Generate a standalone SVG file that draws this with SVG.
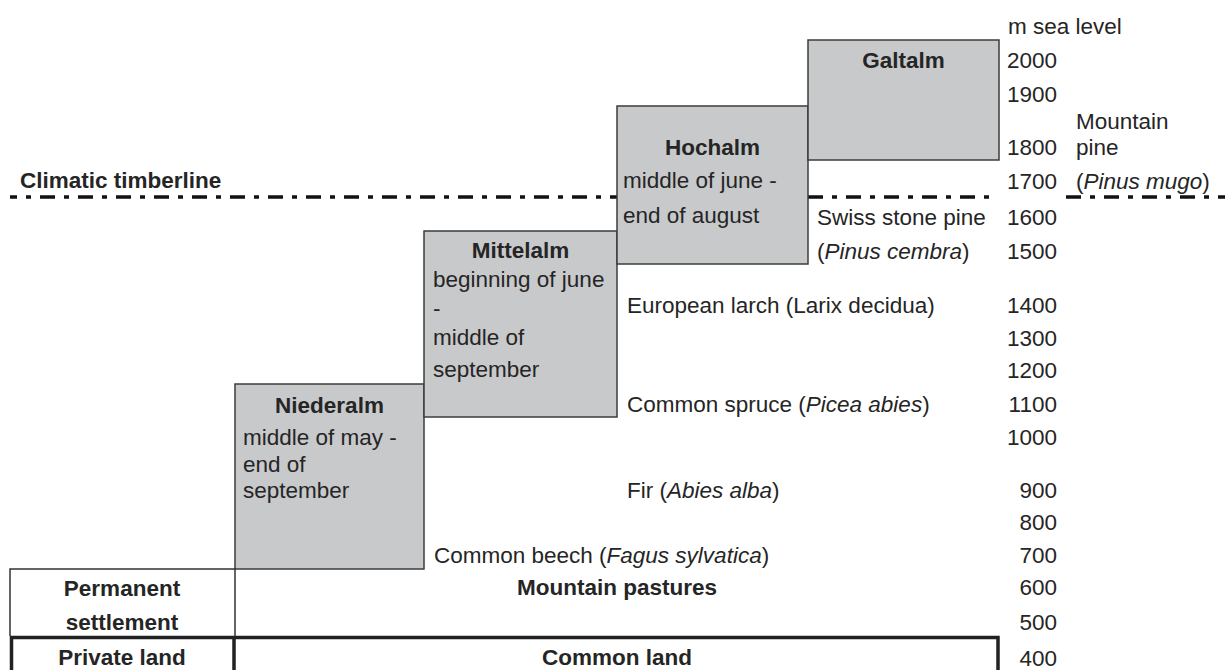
<svg xmlns="http://www.w3.org/2000/svg" width="1225" height="670" viewBox="0 0 1225 670">
<style>
text{font-family:"Liberation Sans",Arial,sans-serif;font-size:22.5px;fill:#252525}
.b{font-weight:bold}
.c{text-anchor:middle}
.e{text-anchor:end}
.box{fill:#c8c9cb;stroke:#3c3c3c;stroke-width:1.5}
.dash{stroke:#111;stroke-width:3.5;stroke-dasharray:15 9 5 9;fill:none}
.thin{stroke:#333;stroke-width:1.5;fill:none}
.thick{stroke:#222;stroke-width:3.5;fill:none}
</style>
<rect width="1225" height="670" fill="#fff"/>
<g id="connectors">
<line class="dash" x1="10" y1="197" x2="617" y2="197" stroke-dashoffset="8"/>
<line class="dash" x1="808" y1="197" x2="998" y2="197"/>
<line class="dash" x1="1066" y1="197" x2="1225" y2="197"/>
</g>
<g id="niederalm">
<rect class="box" x="235" y="384" width="189" height="185"/>
<text class="b c" x="329.5" y="413">Niederalm</text>
<text x="243" y="445">middle of may -</text>
<text x="243" y="472">end of</text>
<text x="243" y="498">september</text>
</g>
<g id="mittelalm">
<rect class="box" x="424" y="231" width="193" height="186"/>
<text class="b c" x="520.5" y="258">Mittelalm</text>
<text x="433" y="287">beginning of june</text>
<text x="433" y="316">-</text>
<text x="433" y="345">middle of</text>
<text x="433" y="377">september</text>
</g>
<g id="hochalm">
<rect class="box" x="617" y="106" width="191" height="158"/>
<text class="b c" x="712.5" y="155">Hochalm</text>
<text x="623" y="188">middle of june -</text>
<text x="623" y="223">end of august</text>
</g>
<g id="galtalm">
<rect class="box" x="808" y="40" width="191" height="120"/>
<text class="b c" x="903.5" y="68">Galtalm</text>
</g>
<g id="timberline">
<text class="b" x="20" y="188">Climatic timberline</text>
</g>
<g id="scale">
<text x="1008" y="34">m sea level</text>
<text class="e" x="1057" y="68">2000</text>
<text class="e" x="1057" y="102">1900</text>
<text class="e" x="1057" y="155">1800</text>
<text class="e" x="1057" y="189">1700</text>
<text class="e" x="1057" y="225">1600</text>
<text class="e" x="1057" y="259">1500</text>
<text class="e" x="1057" y="313">1400</text>
<text class="e" x="1057" y="346">1300</text>
<text class="e" x="1057" y="378">1200</text>
<text class="e" x="1057" y="412">1100</text>
<text class="e" x="1057" y="445">1000</text>
<text class="e" x="1057" y="498">900</text>
<text class="e" x="1057" y="530">800</text>
<text class="e" x="1057" y="563">700</text>
<text class="e" x="1057" y="595">600</text>
<text class="e" x="1057" y="630">500</text>
<text class="e" x="1057" y="666">400</text>
</g>
<g id="trees">
<text x="1076" y="129">Mountain</text>
<text x="1076" y="155">pine</text>
<text x="1076" y="189">(<tspan font-style="italic">Pinus mugo</tspan>)</text>
<text x="817" y="225">Swiss stone pine</text>
<text x="817" y="259">(<tspan font-style="italic">Pinus cembra</tspan>)</text>
<text x="627" y="313">European larch (Larix decidua)</text>
<text x="627" y="412">Common spruce (<tspan font-style="italic">Picea abies</tspan>)</text>
<text x="627" y="498">Fir (<tspan font-style="italic">Abies alba</tspan>)</text>
<text x="434" y="563">Common beech (<tspan font-style="italic">Fagus sylvatica</tspan>)</text>
</g>
<g id="settlement">
<path class="thin" d="M10 636 V569 H235 V636"/>
<text class="b c" x="122" y="596">Permanent</text>
<text class="b c" x="122" y="630">settlement</text>
</g>
<g id="pastures">
<text class="b c" x="617" y="595">Mountain pastures</text>
</g>
<g id="land">
<path class="thick" d="M11.5 672 V637.5 H998 V672 M234 637.5 V672"/>
<text class="b c" x="122" y="665">Private land</text>
<text class="b c" x="617" y="665">Common land</text>
</g>
</svg>
